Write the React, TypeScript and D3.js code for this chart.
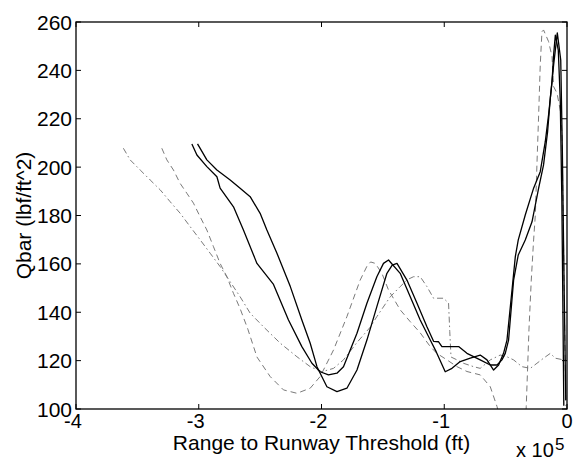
import React from "react";
import * as d3 from "d3";

const W = 573;
const H = 462;
const M = { left: 76, right: 6, top: 22, bottom: 53 };

const xTicks = [-4, -3, -2, -1, 0];
const yTicks = [100, 120, 140, 160, 180, 200, 220, 240, 260];
const xLabel = "Range to Runway Threshold (ft)";
const yLabel = "Qbar (lbf/ft^2)";
const xMultiplier = "x 10";
const xExponent = "5";

// x in units of 1e5 ft, y in lbf/ft^2
const solidA: [number, number][] = [
  [-3.056, 209.6], [-3.015, 205.0], [-2.934, 200.2], [-2.852, 196.0], [-2.826, 191.3],
  [-2.717, 183.6], [-2.636, 174.0], [-2.526, 160.2], [-2.391, 151.5], [-2.269, 136.8],
  [-2.16, 125.8], [-2.078, 118.9], [-2.011, 115.4], [-1.943, 114.1], [-1.874, 114.8],
  [-1.821, 117.5], [-1.711, 131.3], [-1.63, 143.7], [-1.549, 154.7], [-1.495, 160.2],
  [-1.454, 161.6], [-1.359, 156.1], [-1.277, 146.4], [-1.196, 136.8], [-1.114, 128.5],
  [-1.065, 123.6], [-0.992, 115.4], [-0.937, 116.8], [-0.87, 119.6], [-0.788, 121.0],
  [-0.707, 122.3], [-0.652, 120.3], [-0.598, 116.1], [-0.557, 118.2], [-0.517, 123.0],
  [-0.489, 128.5], [-0.448, 149.2], [-0.421, 163.0], [-0.397, 169.9], [-0.34, 180.2],
  [-0.272, 191.3], [-0.218, 198.1], [-0.177, 210.5], [-0.15, 221.6], [-0.122, 235.3],
  [-0.109, 246.4], [-0.095, 254.6], [-0.071, 248.4], [-0.055, 227.8], [-0.042, 186.4],
  [-0.034, 145.1], [-0.026, 101.3],
];

const solidB: [number, number][] = [
  [-3.01, 209.6], [-2.934, 203.0], [-2.852, 198.8], [-2.744, 194.7], [-2.663, 191.3],
  [-2.581, 187.8], [-2.5, 180.9], [-2.445, 174.0], [-2.363, 164.4], [-2.254, 150.6],
  [-2.16, 136.8], [-2.092, 127.2], [-2.037, 117.5], [-1.956, 109.2], [-1.874, 107.2],
  [-1.793, 108.6], [-1.711, 116.1], [-1.63, 128.5], [-1.549, 142.3], [-1.467, 156.1],
  [-1.424, 159.5], [-1.385, 160.2], [-1.304, 153.3], [-1.222, 143.7], [-1.141, 134.0],
  [-1.087, 128.0], [-1.046, 127.8], [-1.019, 125.8], [-0.883, 125.8], [-0.815, 123.0],
  [-0.707, 120.3], [-0.625, 118.2], [-0.57, 118.2], [-0.53, 120.3], [-0.503, 123.0],
  [-0.476, 128.5], [-0.435, 153.3], [-0.397, 163.7], [-0.34, 169.9], [-0.285, 177.4],
  [-0.231, 191.3], [-0.191, 200.9], [-0.158, 214.7], [-0.136, 228.5], [-0.109, 242.2],
  [-0.079, 255.5], [-0.051, 244.3], [-0.038, 207.1], [-0.022, 145.1], [-0.01, 103.7],
];

const dashC: [number, number][] = [
  [-3.614, 207.8], [-3.559, 203.0], [-3.477, 198.8], [-3.396, 194.7], [-3.314, 190.6],
  [-3.233, 185.7], [-3.151, 180.9], [-3.07, 175.4], [-2.988, 169.9], [-2.907, 164.4],
  [-2.825, 158.8], [-2.744, 152.6], [-2.663, 146.4], [-2.581, 139.6], [-2.473, 134.0],
  [-2.336, 127.2], [-2.2, 121.6], [-2.092, 117.5], [-1.997, 115.4], [-1.902, 116.8],
  [-1.821, 120.3], [-1.711, 127.5], [-1.6, 134.0], [-1.549, 138.2], [-1.44, 146.4],
  [-1.359, 150.6], [-1.3, 153.5], [-1.25, 154.7], [-1.196, 154.7], [-1.141, 150.6],
  [-1.087, 145.8], [-1.006, 145.8], [-0.965, 143.8], [-0.955, 132.0], [-0.945, 121.5],
  [-0.896, 120.3], [-0.843, 118.9], [-0.761, 117.5], [-0.707, 116.8], [-0.625, 120.3],
  [-0.544, 122.3], [-0.489, 121.6], [-0.435, 120.3], [-0.367, 117.5], [-0.299, 116.8],
  [-0.245, 118.9], [-0.191, 121.0], [-0.136, 123.0], [-0.095, 121.0], [-0.028, 120.3],
  [0, 120.3],
];

const dashD: [number, number][] = [
  [-3.301, 207.8], [-3.26, 203.0], [-3.206, 198.8], [-3.152, 193.3], [-3.097, 189.2],
  [-3.043, 185.1], [-2.989, 179.5], [-2.934, 174.0], [-2.88, 167.1], [-2.826, 160.2],
  [-2.771, 154.7], [-2.717, 147.8], [-2.663, 141.5], [-2.6, 133.0], [-2.526, 121.5],
  [-2.418, 113.4], [-2.31, 107.9], [-2.2, 106.5], [-2.092, 108.6], [-2.011, 113.4],
  [-1.902, 124.4], [-1.793, 138.2], [-1.685, 153.3], [-1.63, 159.0], [-1.6, 160.8],
  [-1.562, 160.2], [-1.508, 156.1], [-1.454, 149.2], [-1.359, 141.0], [-1.277, 136.1],
  [-1.196, 131.5], [-1.114, 125.8], [-1.06, 123.0], [-0.978, 120.3], [-0.896, 117.5],
  [-0.815, 115.5], [-0.707, 114.1], [-0.625, 109.2], [-0.57, 101.0], [-0.56, 99.0],
];

const dashE: [number, number][] = [
  [-0.334, 99.0], [-0.332, 101.0], [-0.31, 132.7], [-0.291, 153.3], [-0.272, 169.9],
  [-0.258, 180.2], [-0.245, 200.9], [-0.231, 221.6], [-0.218, 242.2], [-0.204, 256.0],
  [-0.191, 256.7], [-0.15, 251.9], [-0.122, 245.7], [-0.109, 233.3], [-0.081, 230.5],
  [-0.055, 223.6], [-0.041, 214.1], [-0.033, 186.4], [-0.022, 145.1], [-0.01, 101.3],
];

const series = [
  { data: dashC, stroke: "#7a7a7a", width: 1, dash: "6,3,1.5,3" },
  { data: dashD, stroke: "#7a7a7a", width: 1, dash: "6,4" },
  { data: dashE, stroke: "#7a7a7a", width: 1, dash: "6,4" },
  { data: solidA, stroke: "#000", width: 1.3, dash: undefined },
  { data: solidB, stroke: "#000", width: 1.3, dash: undefined },
];

export default function App() {
  const x = d3.scaleLinear().domain([-4, 0]).range([M.left, W - M.right]);
  const y = d3.scaleLinear().domain([100, 260]).range([H - M.bottom, M.top]);
  const line = d3
    .line<[number, number]>()
    .x((d) => x(d[0]))
    .y((d) => y(d[1]));
  const font = "Arial, 'Liberation Sans', Helvetica, sans-serif";
  const x0 = M.left, x1 = W - M.right, y0 = M.top, y1 = H - M.bottom;
  const tl = 5;
  return (
    <svg
      width={W}
      height={H}
      style={{ position: "absolute", left: 0, top: 0, background: "#fff" }}
      fontFamily={font}
    >
      <defs>
        <clipPath id="plot">
          <rect x={x0} y={y0} width={x1 - x0} height={y1 - y0} />
        </clipPath>
      </defs>
      <rect x={0} y={0} width={W} height={H} fill="#fff" />
      <g clipPath="url(#plot)">
        {series.map((s, i) => (
          <path
            key={i}
            d={line(s.data) || ""}
            fill="none"
            stroke={s.stroke}
            strokeWidth={s.width}
            strokeDasharray={s.dash}
            strokeLinejoin="round"
          />
        ))}
      </g>
      <rect x={x0} y={y0} width={x1 - x0} height={y1 - y0} fill="none" stroke="#000" strokeWidth={1.3} />
      {xTicks.map((t) => (
        <g key={"x" + t}>
          <line x1={x(t)} x2={x(t)} y1={y1} y2={y1 - tl} stroke="#000" strokeWidth={1} />
          <line x1={x(t)} x2={x(t)} y1={y0} y2={y0 + tl} stroke="#000" strokeWidth={1} />
          <text
            x={x(t) + (t < 0 ? -3 : 0)}
            y={428}
            textAnchor="middle"
            fontSize={20}
            fill="#000"
          >
            {t}
          </text>
        </g>
      ))}
      {yTicks.map((t) => (
        <g key={"y" + t}>
          <line x1={x0} x2={x0 + tl} y1={y(t)} y2={y(t)} stroke="#000" strokeWidth={1} />
          <line x1={x1} x2={x1 - tl} y1={y(t)} y2={y(t)} stroke="#000" strokeWidth={1} />
          <text
            x={x0 - 4}
            y={y(t)}
            dy="0.36em"
            textAnchor="end"
            fontSize={21}
            fill="#000"
          >
            {t}
          </text>
        </g>
      ))}
      <text x={(x0 + x1) / 2} y={450} textAnchor="middle" fontSize={21} fill="#000">
        {xLabel}
      </text>
      <text
        transform={`translate(31,${(y0 + y1) / 2}) rotate(-90)`}
        textAnchor="middle"
        fontSize={21}
        fill="#000"
      >
        {yLabel}
      </text>
      <text x={516} y={457} fontSize={20} fill="#000">
        {xMultiplier}
      </text>
      <text x={555} y={450} fontSize={17} fill="#000">
        {xExponent}
      </text>
    </svg>
  );
}
